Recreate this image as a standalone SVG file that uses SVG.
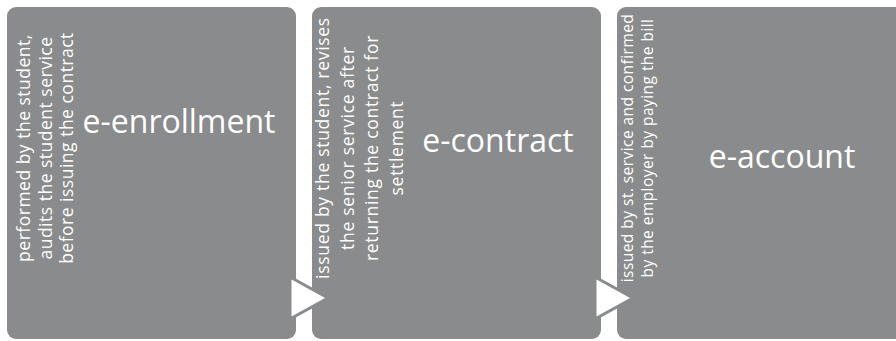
<svg xmlns="http://www.w3.org/2000/svg" width="896" height="341" viewBox="0 0 896 341">
<style>
.box{fill:#898b8c;}
.title{font-family:"Open Sans","DejaVu Sans",sans-serif;fill:#ffffff;font-size:32px;text-anchor:middle;}
.side{font-family:"Open Sans","DejaVu Sans",sans-serif;fill:#ffffff;text-anchor:middle;}
.arrow{fill:#ffffff;stroke:#898b8c;stroke-width:3;stroke-linejoin:miter;}
</style>
<rect width="896" height="341" fill="#ffffff"/>
<g id="node-enrollment">
<rect class="box" x="7" y="7" width="289" height="332" rx="9"/>
<text class="title" x="179" y="133">e-enrollment</text>
<g class="side" font-size="17.5" letter-spacing="0.5">
<text transform="translate(30,148) rotate(-90)">performed by the student,</text>
<text transform="translate(51.5,148) rotate(-90)">audits the student service</text>
<text transform="translate(73,148) rotate(-90)">before issuing the contract</text>
</g>
</g>
<g id="node-contract">
<rect class="box" x="312" y="7" width="289" height="332" rx="9"/>
<text class="title" x="498" y="152">e-contract</text>
<g class="side" font-size="17.5" letter-spacing="0.7">
<text transform="translate(329,148) rotate(-90)">issued by the student, revises</text>
<text transform="translate(353.5,148) rotate(-90)">the senior service after</text>
<text transform="translate(378,148) rotate(-90)">returning the contract for</text>
<text transform="translate(402.5,148) rotate(-90)">settlement</text>
</g>
</g>
<g id="node-account">
<rect class="box" x="617" y="7" width="300" height="332" rx="9"/>
<text class="title" x="782" y="168">e-account</text>
<g class="side" font-size="15.5" letter-spacing="0.45">
<text transform="translate(633,148) rotate(-90)">issued by st. service and confirmed</text>
<text transform="translate(653,148) rotate(-90)">by the employer by paying the bill</text>
</g>
</g>
<g id="connectors">
<polygon class="arrow" points="290,277 328,298 290,319"/>
<polygon class="arrow" points="595,277 633,298 595,319"/>
</g>
</svg>
